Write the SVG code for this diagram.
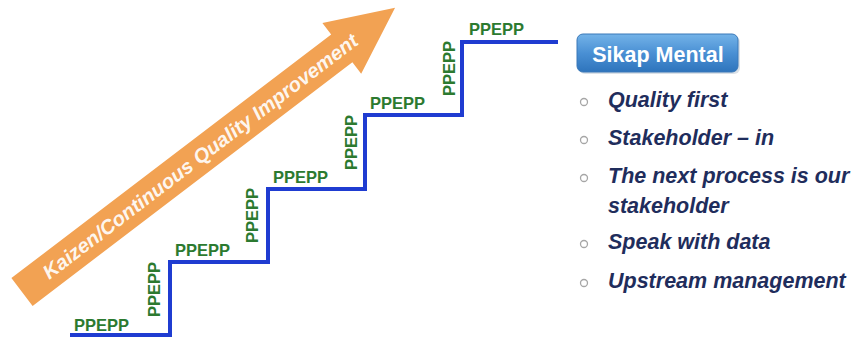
<svg xmlns="http://www.w3.org/2000/svg" width="854" height="338" viewBox="0 0 854 338">
  <style>
    .lbl { font-family: "Liberation Sans", Arial, sans-serif; font-weight: bold; font-size: 16.5px; fill: #2c7a30; }
    .item { font-family: "Liberation Sans", Arial, sans-serif; font-weight: bold; font-style: italic; font-size: 21.5px; fill: #1f2d5c; }
    .bullet { fill: none; stroke: #a6a6a6; stroke-width: 1.3; }
    .stair { fill: none; stroke: #1f3cd1; stroke-width: 4; stroke-linejoin: miter; }
  </style>
  <defs>
    <linearGradient id="btnGrad" x1="0" y1="0" x2="0" y2="1">
      <stop offset="0" stop-color="#74b3e8"/>
      <stop offset="0.5" stop-color="#4a90d4"/>
      <stop offset="1" stop-color="#2e74bc"/>
    </linearGradient>
  </defs>
  <rect width="854" height="338" fill="#ffffff"/>

  <g id="kaizen-arrow" transform="translate(22,292) rotate(-37.3)">
    <polygon points="0,-17.5 402,-17.5 402,-32 469,0 402,32 402,17.5 0,17.5" fill="#f2a253"/>
    <text x="29" y="7" textLength="390" lengthAdjust="spacingAndGlyphs" font-family="Liberation Sans, Arial, sans-serif" font-weight="bold" font-style="italic" font-size="20" fill="#ffffff" fill-opacity="0.92">Kaizen/Continuous Quality Improvement</text>
  </g>

  <g id="connectors">
    <path id="staircase" class="stair" d="M70,335 H170 V262 H268 V189 H365 V115 H462 V42 H558"/>
  </g>

  <g id="step-labels">
    <text class="lbl" x="74" y="331">PPEPP</text>
    <text class="lbl" transform="translate(160,317) rotate(-90)">PPEPP</text>
    <text class="lbl" x="175" y="256">PPEPP</text>
    <text class="lbl" transform="translate(258,243) rotate(-90)">PPEPP</text>
    <text class="lbl" x="273" y="183">PPEPP</text>
    <text class="lbl" transform="translate(357,170) rotate(-90)">PPEPP</text>
    <text class="lbl" x="370" y="109">PPEPP</text>
    <text class="lbl" transform="translate(455,96) rotate(-90)">PPEPP</text>
    <text class="lbl" x="469" y="35">PPEPP</text>
  </g>

  <g id="sikap-mental">
    <rect x="579" y="36" width="161" height="38" rx="6" fill="#9ab" opacity="0.35"/>
    <rect x="577" y="34" width="161" height="38" rx="6" fill="url(#btnGrad)" stroke="#3a78b8" stroke-width="1"/>
    <text x="658" y="62" text-anchor="middle" font-family="Liberation Sans, Arial, sans-serif" font-weight="bold" font-size="21.5" fill="#ffffff">Sikap Mental</text>
  </g>

  <g id="mental-list">
    <circle class="bullet" cx="584" cy="102" r="3.5"/>
    <text class="item" x="608" y="107">Quality first</text>
    <circle class="bullet" cx="584" cy="140" r="3.5"/>
    <text class="item" x="608" y="145">Stakeholder – in</text>
    <circle class="bullet" cx="584" cy="178" r="3.5"/>
    <text class="item" x="608" y="183">The next process is our</text>
    <text class="item" x="608" y="213">stakeholder</text>
    <circle class="bullet" cx="584" cy="244" r="3.5"/>
    <text class="item" x="608" y="249">Speak with data</text>
    <circle class="bullet" cx="584" cy="283" r="3.5"/>
    <text class="item" x="608" y="288">Upstream management</text>
  </g>
</svg>
